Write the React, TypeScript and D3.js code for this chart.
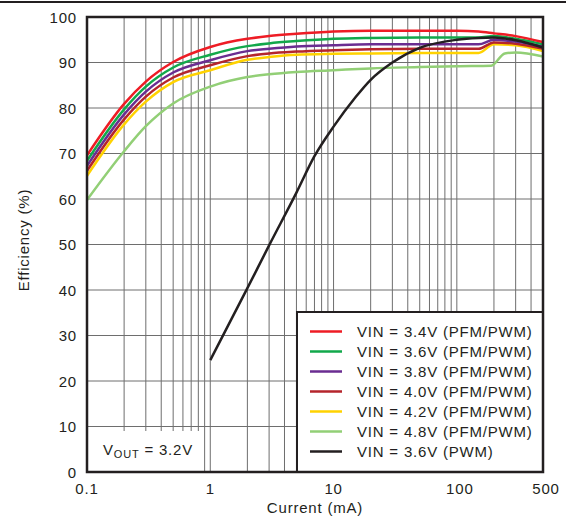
import React from 'react';
import * as d3 from 'd3';

// ---- data ----
const currents = [0.1, 0.2, 0.3, 0.5, 1, 2, 3, 5, 10, 20, 50, 100, 150, 200, 300, 500];
const eff34 = [69.6, 80.9, 85.8, 90.1, 93.4, 95.2, 95.8, 96.3, 96.8, 97, 97, 97, 96.8, 96.4, 95.8, 94.5];
const eff36 = [68.4, 79.7, 84.7, 88.9, 91.7, 93.6, 94.2, 94.7, 95.2, 95.4, 95.5, 95.5, 95.5, 95.8, 95.2, 94];
const eff38 = [67.3, 78.6, 83.6, 87.8, 90.5, 92.5, 93, 93.5, 93.8, 94, 94, 94, 94, 95, 94.6, 93.5];
const eff40 = [66.2, 77.5, 82.5, 86.7, 89.4, 91.4, 92, 92.4, 92.7, 92.9, 93, 93, 93, 94.4, 94.1, 93];
const eff42 = [65.1, 76.4, 81.4, 85.7, 88.3, 90.6, 91.2, 91.7, 91.9, 92, 92.1, 92.1, 92.1, 94, 93.8, 92.5];
const currents48 = [0.1, 0.2, 0.3, 0.5, 1, 2, 3, 5, 10, 20, 50, 100, 190, 245, 300, 500];
const eff48 = [59.8, 70.5, 76, 81, 84.7, 86.8, 87.4, 87.9, 88.3, 88.7, 89, 89.2, 89.3, 92, 92.2, 91.3];
const currentsPwm = [1, 2, 3, 5, 7, 10, 15, 20, 30, 50, 100, 150, 200, 300, 500];
const effPwm = [24.6, 40.4, 49.8, 61.4, 69.4, 75.9, 82.3, 86.2, 90, 93.2, 95, 95.4, 95.5, 94.9, 93.3];

const seriesLabels = [
  'VIN = 3.4V (PFM/PWM)',
  'VIN = 3.6V (PFM/PWM)',
  'VIN = 3.8V (PFM/PWM)',
  'VIN = 4.0V (PFM/PWM)',
  'VIN = 4.2V (PFM/PWM)',
  'VIN = 4.8V (PFM/PWM)',
  'VIN = 3.6V (PWM)',
];
const seriesColors = ['#ee1c25', '#12a84b', '#6a2d91', '#b5252c', '#ffd200', '#92cf76', '#231f20'];

const xTickValues = [0.1, 1, 10, 100, 500];
const xTickLabels = ['0.1', '1', '10', '100', '500'];
const yTickValues = [0, 10, 20, 30, 40, 50, 60, 70, 80, 90, 100];

const FONT = '"Liberation Sans", Arial, Helvetica, sans-serif';

export default function App() {
  const left = 87, right = 543, top = 17, bottom = 472;
  const x = d3.scaleLog().domain([0.1, 500]).range([left, right]);
  const y = d3.scaleLinear().domain([0, 100]).range([bottom, top]);

  const series = [
    { xs: currents, ys: eff34 },
    { xs: currents, ys: eff36 },
    { xs: currents, ys: eff38 },
    { xs: currents, ys: eff40 },
    { xs: currents, ys: eff42 },
    { xs: currents48, ys: eff48 },
    { xs: currentsPwm, ys: effPwm },
  ];
  const drawOrder = [5, 4, 3, 2, 1, 0, 6];

  const line = d3
    .line<[number, number]>()
    .x((d) => x(d[0]))
    .y((d) => y(d[1]))
    .curve(d3.curveMonotoneX);

  const minor: number[] = [];
  [0.1, 1, 10, 100].forEach((dec) => {
    for (let k = 1; k <= 9; k++) {
      const v = dec * k;
      if (v > 0.1 && v < 500) minor.push(v);
    }
  });

  const legX = 297, legY = 312;
  const textStyle = { fontFamily: FONT, fontSize: 15, letterSpacing: 0.8, fill: '#231f20' } as const;

  return (
    <svg width={566} height={518} style={{ position: 'absolute', left: 0, top: 0, background: '#fff' }}>
      <rect x={0} y={0} width={566} height={518} fill="#fff" />
      <line x1={0} x2={566} y1={2} y2={2} stroke="#231f20" strokeWidth={2} />

      {/* grid */}
      {minor.map((v, i) => (
        <line key={'vx' + i} x1={x(v)} x2={x(v)} y1={top} y2={bottom} stroke="#6e6e6e" strokeWidth={1} />
      ))}
      {yTickValues.map((v) => (
        <line key={'hy' + v} x1={left} x2={right} y1={y(v)} y2={y(v)} stroke="#6e6e6e" strokeWidth={1} />
      ))}

      {/* VOUT label box */}
      <rect x={left} y={431} width={201 - left} height={bottom - 431} fill="#fff" />
      <text x={103} y={455} style={textStyle}>
        V<tspan fontSize={11} dy={3}>OUT</tspan>
        <tspan dy={-3}> = 3.2V</tspan>
      </text>

      {/* series */}
      {drawOrder.map((i) => {
        const pts = series[i].xs.map((c, j) => [c, series[i].ys[j]] as [number, number]);
        return (
          <path key={'s' + i} d={line(pts) || ''} fill="none" stroke={seriesColors[i]} strokeWidth={2.5} strokeLinejoin="round" />
        );
      })}

      {/* legend */}
      <rect x={legX} y={legY} width={right - legX} height={bottom - legY} fill="#fff" stroke="#231f20" strokeWidth={2} />
      {seriesLabels.map((lab, i) => {
        const cy = 331.5 + i * 20;
        return (
          <g key={'lg' + i}>
            <line x1={310} x2={342} y1={cy} y2={cy} stroke={seriesColors[i]} strokeWidth={2.5} />
            <text x={357} y={cy + 5.2} style={textStyle}>
              {lab}
            </text>
          </g>
        );
      })}

      {/* frame */}
      <rect x={left} y={top} width={right - left} height={bottom - top} fill="none" stroke="#231f20" strokeWidth={2.5} />

      {/* axes labels */}
      {yTickValues.map((v) => (
        <text key={'yl' + v} x={77} y={y(v) + 5.5} textAnchor="end" style={textStyle}>
          {v}
        </text>
      ))}
      {xTickValues.map((v, i) => (
        <text key={'xl' + v} x={x(v) + (v >= 100 ? 3 : 0)} y={494} textAnchor="middle" style={textStyle}>
          {xTickLabels[i]}
        </text>
      ))}
      <text x={315} y={513} textAnchor="middle" style={textStyle}>
        Current (mA)
      </text>
      <text transform="translate(29,240) rotate(-90)" textAnchor="middle" style={textStyle}>
        Efficiency (%)
      </text>
    </svg>
  );
}
